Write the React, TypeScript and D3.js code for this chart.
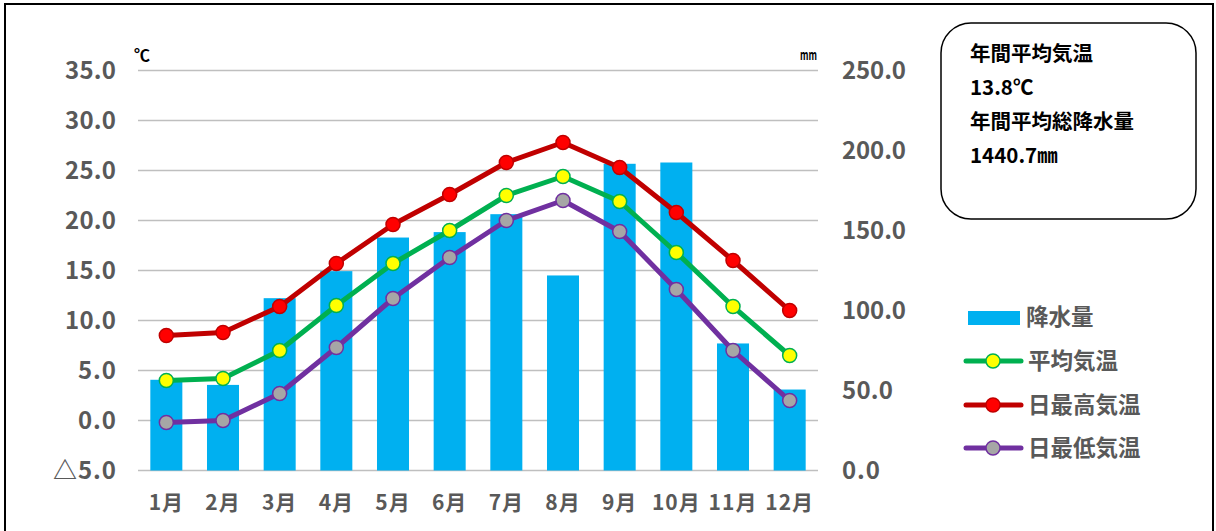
import * as d3 from 'd3';
import React from 'react';

const months = ['1月', '2月', '3月', '4月', '5月', '6月', '7月', '8月', '9月', '10月', '11月', '12月'];
const precipitation = [56.7, 53.5, 107.7, 124.6, 145.6, 149.0, 160.2, 121.9, 191.7, 192.5, 79.4, 50.6];
const avgTemp = [4.0, 4.2, 7.0, 11.5, 15.7, 19.0, 22.5, 24.4, 21.9, 16.8, 11.4, 6.5];
const maxTemp = [8.5, 8.8, 11.4, 15.7, 19.6, 22.6, 25.8, 27.8, 25.3, 20.8, 16.0, 11.0];
const minTemp = [-0.2, 0.0, 2.7, 7.3, 12.2, 16.3, 20.0, 22.0, 18.9, 13.1, 7.0, 2.0];
const tempTicks = [-5, 0, 5, 10, 15, 20, 25, 30, 35];
const precipTicks = [0, 50, 100, 150, 200, 250];
const infoLines = ['年間平均気温', '13.8℃', '年間平均総降水量', '1440.7㎜'];

const lineSeries = [
  { name: '平均気温', values: avgTemp, stroke: '#00B050', fill: '#FFFF00' },
  { name: '日最高気温', values: maxTemp, stroke: '#C00000', fill: '#FF0000' },
  { name: '日最低気温', values: minTemp, stroke: '#7030A0', fill: '#A6A6A6' },
];

const FONT = '"Noto Sans CJK JP", "Noto Sans", sans-serif';
const GRAY = '#595959';

const App = () => {
  const left = 138;
  const right = 818;
  const top = 70.5;
  const bottom = 470.5;

  const x = d3
    .scaleBand<string>()
    .domain(months)
    .range([left, right])
    .paddingInner(0.435)
    .paddingOuter(0.2175);
  const yT = d3.scaleLinear().domain([-5, 35]).range([bottom, top]);
  const yP = d3.scaleLinear().domain([0, 250]).range([bottom, top]);
  const cx = (m: string) => (x(m) as number) + x.bandwidth() / 2;

  const line = d3
    .line<number>()
    .x((_, i) => cx(months[i]))
    .y(d => yT(d));

  const fmtT = (v: number) => (v < 0 ? '△' + Math.abs(v).toFixed(1) : v.toFixed(1));
  // tick labels look monospaced, ~13px per digit, the triangle is full width
  const tickLen = (s: string) => Array.from(s).reduce((a, c) => a + (c === '△' ? 25 : 13), 0) - 1;

  const legendRows = [317, 361, 405, 448];

  return (
    <svg
      width={1216}
      height={531}
      style={{ position: 'absolute', left: 0, top: 0, background: '#fff' }}
      fontFamily={FONT}
    >
      <rect x={5} y={4} width={1208} height={560} fill="#fff" stroke="#000" strokeWidth={2} />

      {/* grid */}
      {tempTicks.map(t => (
        <line key={t} x1={left} x2={right} y1={yT(t)} y2={yT(t)} stroke="#BFBFBF" strokeWidth={1.5} />
      ))}

      {/* bars */}
      {precipitation.map((v, i) => (
        <rect
          key={months[i]}
          x={x(months[i])}
          y={yP(v)}
          width={x.bandwidth()}
          height={yP(0) - yP(v)}
          fill="#00B0F0"
        />
      ))}

      {/* lines */}
      {lineSeries.map(s => (
        <g key={s.name}>
          <path d={line(s.values) as string} fill="none" stroke={s.stroke} strokeWidth={5} strokeLinejoin="round" />
          {s.values.map((v, i) => (
            <circle key={i} cx={cx(months[i])} cy={yT(v)} r={7} fill={s.fill} stroke={s.stroke} strokeWidth={1.5} />
          ))}
        </g>
      ))}

      {/* left axis */}
      {tempTicks.map(t => (
        <text
          key={t}
          x={116}
          y={yT(t)}
          dy="0.36em"
          textAnchor="end"
          fontSize={24}
          fontWeight="bold"
          fill={GRAY}
          textLength={tickLen(fmtT(t))}
          lengthAdjust="spacing"
        >
          {fmtT(t)}
        </text>
      ))}
      {/* right axis */}
      {precipTicks.map(t => (
        <text
          key={t}
          x={842}
          y={yP(t)}
          dy="0.36em"
          textAnchor="start"
          fontSize={24}
          fontWeight="bold"
          fill={GRAY}
          textLength={tickLen(t.toFixed(1))}
          lengthAdjust="spacing"
        >
          {t.toFixed(1)}
        </text>
      ))}
      {/* month labels */}
      {months.map(m => (
        <text key={m} x={cx(m)} y={502} dy="0.36em" textAnchor="middle" fontSize={21} fontWeight="bold" fill={GRAY} letterSpacing={1}>
          {m}
        </text>
      ))}

      {/* units */}
      <text x={134} y={61} fontSize={16} fontWeight="bold" fill="#000">
        ℃
      </text>
      <text x={800} y={60} fontSize={13} fontWeight="bold" fill="#000" textLength={17} lengthAdjust="spacingAndGlyphs">
        mm
      </text>

      {/* info box */}
      <rect x={941} y={23} width={255} height={196} rx={30} fill="#fff" stroke="#000" strokeWidth={1.5} />
      {infoLines.map((t, i) => (
        <text key={i} x={970} y={54 + i * 34} dy="0.36em" fontSize={20.5} fontWeight="bold" fill="#000">
          {t}
        </text>
      ))}

      {/* legend */}
      <rect x={968} y={311} width={52} height={14} fill="#00B0F0" />
      <text x={1026} y={legendRows[0]} dy="0.36em" fontSize={22.5} fontWeight="bold" fill={GRAY}>
        降水量
      </text>
      {lineSeries.map((s, i) => (
        <g key={s.name}>
          <line x1={966} x2={1021} y1={legendRows[i + 1]} y2={legendRows[i + 1]} stroke={s.stroke} strokeWidth={5} strokeLinecap="round" />
          <circle cx={993} cy={legendRows[i + 1]} r={7} fill={s.fill} stroke={s.stroke} strokeWidth={1.5} />
          <text x={1028} y={legendRows[i + 1]} dy="0.36em" fontSize={22.5} fontWeight="bold" fill={GRAY}>
            {s.name}
          </text>
        </g>
      ))}
    </svg>
  );
};

export default App;
